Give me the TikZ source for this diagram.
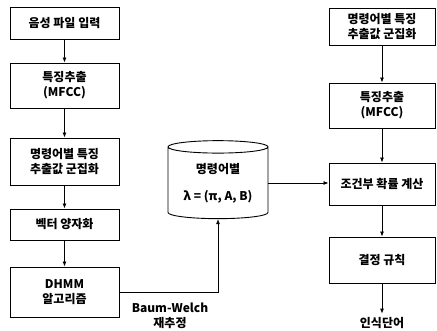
\documentclass[tikz,border=0pt]{standalone}
\usepackage{fontspec}
\setmainfont{Noto Sans CJK KR}
\usepackage{tikz}
\usetikzlibrary{shapes, positioning, arrows.meta}

\tikzset{
  blk/.style={draw, line width=0.9pt, minimum width=109pt, align=center,
    font=\bfseries\fontsize{12}{15}\selectfont},
  txt/.style={align=center, font=\bfseries\fontsize{12}{15}\selectfont},
  >={Latex[length=5pt,width=4pt]}
}

\begin{document}
\begin{tikzpicture}[x=1pt, y=-1pt, line width=0.8pt]
        \useasboundingbox (0,0) rectangle (437,331);

        % left column
        \node[blk, minimum height=32pt] (wav) at (64.5, 23) {음성 파일 입력};
        \node[blk, minimum height=45pt] (mfccL) at (64.5, 85.5) {특징추출\\(MFCC)};
        \node[blk, minimum height=47pt] (clusL) at (64.5, 161.5) {명령어별 특징\\추출값 군집화};
        \node[blk, minimum height=31pt] (vq) at (64.5, 224.5) {벡터 양자화};
        \node[blk, minimum height=50pt] (dhmm) at (64.5, 292) {DHMM\\알고리즘};

        % model
        \node[cylinder, shape border rotate=90, draw, line width=0.9pt, aspect=0.18,
              inner sep=0pt, minimum width=100pt, minimum height=78pt, txt] (db) at (218, 183)
              {명령어별\\[12pt]λ = (π, A, B)};
        \node[txt] (bw) at (170, 316) {Baum-Welch\\재추정};

        % right column
        \node[blk, minimum width=106pt, minimum height=37pt] (clusR) at (382, 26.5) {명령어별 특징\\추출값 군집화};
        \node[blk, minimum width=106pt, minimum height=45pt] (mfccR) at (382, 105.5) {특징추출\\(MFCC)};
        \node[blk, minimum width=106pt, minimum height=42pt] (prob) at (382, 184) {조건부 확률 계산};
        \node[blk, minimum width=106pt, minimum height=46pt] (rule) at (382, 260) {결정 규칙};
        \node[txt] (word) at (382, 323) {인식단어};

        \draw[->] (wav) -- (mfccL);
        \draw[->] (mfccL) -- (clusL);
        \draw[->] (clusL) -- (vq);
        \draw[->] (vq) -- (dhmm);
        \draw[->] (dhmm.east) -| (db.south);
        \draw[->] (db.east) -- (db.east -| prob.west);

        \draw[->] (clusR) -- (mfccR);
        \draw[->] (mfccR) -- (prob);
        \draw[->] (prob) -- (rule);
        \draw[->] (rule) -- (word);
\end{tikzpicture}
\end{document}
